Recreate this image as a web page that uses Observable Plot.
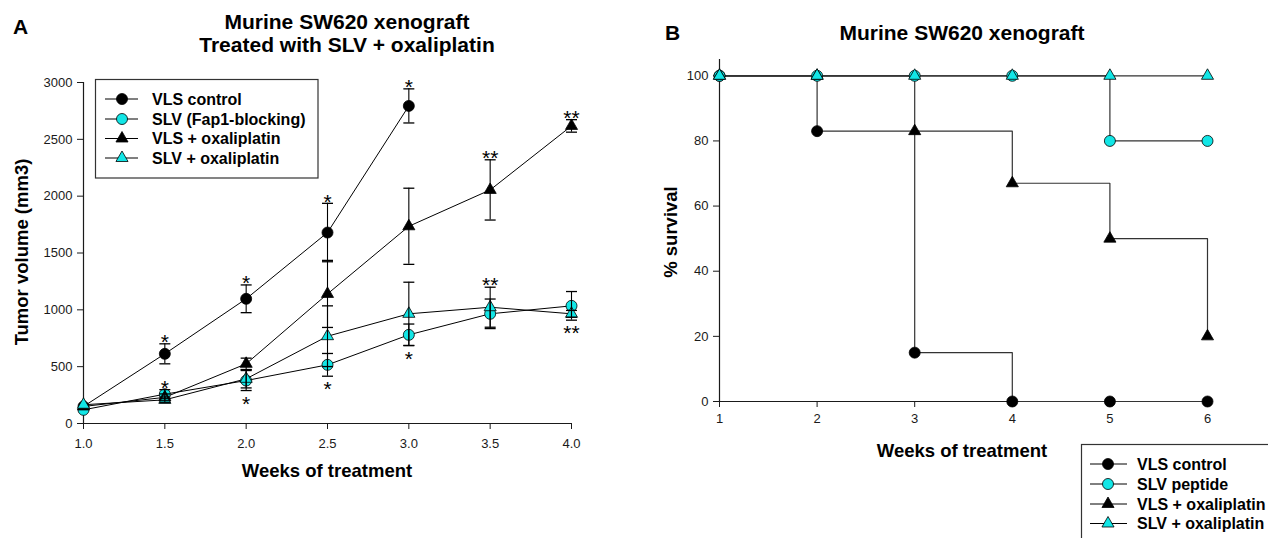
<!DOCTYPE html>
<html><head><meta charset="utf-8">
<script src="https://cdn.jsdelivr.net/npm/d3@7"></script>
<script src="https://cdn.jsdelivr.net/npm/@observablehq/plot@0.6"></script>
<style>
html,body{margin:0;padding:0;background:#fff;width:1268px;height:538px;overflow:hidden;}
#wrap{position:relative;width:1268px;height:538px;font-family:"Liberation Sans",Arial,Helvetica,sans-serif;}
.panel{position:absolute;top:0;}
.panel svg g[aria-label$="tick label"], .panel svg g[aria-label$="tick label"] text{font-size:13px !important;}
#overlay{position:absolute;left:0;top:0;pointer-events:none;}
</style></head><body><div id="wrap"></div>
<script>
// ---------- Panel A data: tumor volume (mm3) ----------
const weeksA = [1.0, 1.5, 2.0, 2.5, 3.0, 3.5, 4.0];
const seriesA = ["VLS control", "SLV (Fap1-blocking)", "VLS + oxaliplatin", "SLV + oxaliplatin"];
const vlsControlVol = [150, 613, 1097, 1680, 2794];
const vlsControlErr = [0, 88, 122, 257, 150];
const slvVol = [120, 258, 378, 516, 780, 965, 1035];
const slvErr = [0, 40, 88, 100, 95, 130, 126];
const vlsOxVol = [150, 230, 525, 1140, 1735, 2055, 2618];
const vlsOxErr = [0, 30, 50, 295, 335, 265, 55];
const slvOxVol = [165, 208, 393, 768, 965, 1023, 965];
const slvOxErr = [0, 25, 80, 267, 278, 176, 30];
const yTicksA = [0, 500, 1000, 1500, 2000, 2500, 3000];

// significance marks (week, series index, side of error bar, label)
const starWeeks = [1.5, 1.5, 2.0, 2.0, 2.5, 2.5, 3.0, 3.0, 3.5, 3.5, 4.0, 4.0];
const starSeries = [0, 1, 0, 1, 0, 1, 0, 1, 2, 3, 2, 1];
const starSide = ["top","top","top","bottom","top","bottom","top","bottom","top","top","top","bottom"];
const starLabels = ["*","*","*","*","*","*","*","*","**","**","**","**"];

// ---------- Panel B data: % survival ----------
const weeksB = [1, 2, 3, 4, 5, 6];
const seriesB = ["VLS control", "SLV peptide", "VLS + oxaliplatin", "SLV + oxaliplatin"];
const survVLS = [100, 83, 15, 0, 0, 0];
const survSLV = [100, 100, 100, 100, 80, 80];
const survVLSox = [100, 100, 83, 67, 50, 20];
const survSLVox = [100, 100, 100, 100, 100, 100];
const yTicksB = [0, 20, 40, 60, 80, 100];

// ---------- styles ----------
const CYAN = "#12e6e6";
const INK = "#1a1a1a";
const FONT = "'Liberation Sans', Arial, Helvetica, sans-serif";
const seriesFill = ["#000", CYAN, "#000", CYAN];
const seriesSymbol = ["circle", "circle", "triangle", "triangle"];
const symbolR = {circle: 5.5, triangle: 4.5};

// ---------- build tables ----------
const volA = [vlsControlVol, slvVol, vlsOxVol, slvOxVol];
const errA = [vlsControlErr, slvErr, vlsOxErr, slvOxErr];
const rowsA = [];
volA.forEach((vals, s) => vals.forEach((v, i) => rowsA.push({
  series: seriesA[s], s, week: weeksA[i], value: v, err: errA[s][i],
  lo: v - errA[s][i], hi: v + errA[s][i]
})));
const errRows = rowsA.filter(d => d.err > 0);
const capRows = errRows.flatMap(d => [{week: d.week, y: d.lo, s: d.s}, {week: d.week, y: d.hi, s: d.s}]);
const starRows = starWeeks.map((w, i) => {
  const r = rowsA.find(d => d.s === starSeries[i] && d.week === w);
  return {week: w, side: starSide[i], label: starLabels[i], y: starSide[i] === "top" ? r.hi : r.lo};
});

const survB = [survVLS, survSLV, survVLSox, survSLVox];
const rowsB = [];
survB.forEach((vals, s) => vals.forEach((v, i) => rowsB.push({series: seriesB[s], s, week: weeksB[i], value: v})));

const capSymbol = {draw(ctx) { ctx.moveTo(-5.5, 0); ctx.lineTo(5.5, 0); }};

function dotsFor(rows) {
  return [0, 1, 2, 3].map(s => Plot.dot(rows.filter(d => d.s === s), {
    x: "week", y: "value", symbol: seriesSymbol[s], r: symbolR[seriesSymbol[s]],
    fill: seriesFill[s], stroke: "#000", strokeWidth: 0.8
  }));
}

// ---------- Panel A ----------
const plotA = Plot.plot({
  width: 634, height: 538,
  marginLeft: 83, marginRight: 63, marginTop: 82, marginBottom: 115,
  x: {domain: [1, 4]},
  y: {domain: [0, 3000]},
  style: {fontFamily: FONT, fontSize: "13px", color: INK, background: "transparent", overflow: "visible"},
  marks: [
    Plot.ruleY([0], {stroke: INK, strokeWidth: 1.2}),
    Plot.ruleX([1], {stroke: INK, strokeWidth: 1.2}),
    Plot.axisX(weeksA, {tickFormat: d => d.toFixed(1), tickSize: 6, tickPadding: 9, label: null, fontSize: 13, stroke: INK}),
    Plot.axisY(yTicksA, {tickFormat: d3.format("d"), tickSize: 6, tickPadding: 5, label: null, fontSize: 13, stroke: INK}),
    Plot.line(rowsA, {x: "week", y: "value", z: "series", stroke: "#000", strokeWidth: 1}),
    ...dotsFor(rowsA),
    Plot.ruleX(errRows, {x: "week", y1: "lo", y2: "hi", stroke: "#000", strokeWidth: 1.1}),
    Plot.dot(capRows, {x: "week", y: "y", symbol: capSymbol, stroke: "#000", fill: "none", strokeWidth: 1.3}),
    Plot.text(starRows.filter(d => d.side === "top"), {x: "week", y: "y", text: "label", dy: -1.5, fontSize: 21, fill: "#000"}),
    Plot.text(starRows.filter(d => d.side === "bottom"), {x: "week", y: "y", text: "label", dy: 13.5, fontSize: 21, fill: "#000"})
  ]
});

// ---------- Panel B ----------
const plotB = Plot.plot({
  width: 634, height: 538,
  marginLeft: 85, marginRight: 61, marginTop: 59, marginBottom: 137,
  x: {domain: [1, 6]},
  y: {domain: [0, 105]},
  style: {fontFamily: FONT, fontSize: "13px", color: INK, background: "transparent", overflow: "visible"},
  marks: [
    Plot.ruleY([0], {stroke: INK, strokeWidth: 1.2}),
    Plot.ruleX([1], {stroke: INK, strokeWidth: 1.2}),
    Plot.axisX(weeksB, {tickFormat: d3.format("d"), tickSize: 6, tickPadding: 6, label: null, fontSize: 13, stroke: INK}),
    Plot.axisY(yTicksB, {tickFormat: d3.format("d"), tickSize: 6, tickPadding: 5, label: null, fontSize: 13, stroke: INK}),
    Plot.line(rowsB, {x: "week", y: "value", z: "series", curve: "step-after", stroke: "#333", strokeWidth: 1.2}),
    ...dotsFor(rowsB)
  ]
});

const wrap = document.getElementById("wrap");
const pa = document.createElement("div"); pa.className = "panel"; pa.style.left = "0px"; pa.appendChild(plotA); wrap.appendChild(pa);
const pb = document.createElement("div"); pb.className = "panel"; pb.style.left = "634px"; pb.appendChild(plotB); wrap.appendChild(pb);

// ---------- overlay: titles, axis titles, legends ----------
const svg = d3.create("svg").attr("id", "overlay").attr("width", 1268).attr("height", 538)
  .style("font-family", FONT);
function txt(x, y, s, size, opts = {}) {
  const t = svg.append("text").attr("x", x).attr("y", y).text(s)
    .attr("font-size", size).attr("font-weight", opts.weight || "bold")
    .attr("text-anchor", opts.anchor || "start").attr("fill", "#000");
  if (opts.rotate) t.attr("transform", `rotate(-90 ${x} ${y})`);
  return t;
}
txt(13, 34, "A", 21);
txt(347, 28.5, "Murine SW620 xenograft", 21, {anchor: "middle"});
txt(347, 51.5, "Treated with SLV + oxaliplatin", 21, {anchor: "middle"});
txt(327, 477, "Weeks of treatment", 18.5, {anchor: "middle"});
txt(28, 252, "Tumor volume (mm3)", 18.5, {anchor: "middle", rotate: true});

txt(665, 40, "B", 21);
txt(962, 40, "Murine SW620 xenograft", 21, {anchor: "middle"});
txt(962, 457, "Weeks of treatment", 18.5, {anchor: "middle"});
txt(677, 232, "% survival", 18.5, {anchor: "middle", rotate: true});

function legend(box, names, cys, x0, x1, xm, xt) {
  svg.append("rect").attr("x", box[0]).attr("y", box[1]).attr("width", box[2]).attr("height", box[3])
    .attr("fill", "#fff").attr("stroke", "#333").attr("stroke-width", 1.2);
  names.forEach((n, i) => {
    const cy = cys[i];
    svg.append("line").attr("x1", x0).attr("x2", x1).attr("y1", cy).attr("y2", cy).attr("stroke", "#000").attr("stroke-width", 1);
    const sym = seriesSymbol[i] === "circle" ? d3.symbolCircle : d3.symbolTriangle;
    const r = symbolR[seriesSymbol[i]];
    svg.append("path").attr("d", d3.symbol(sym, Math.PI * r * r)()).attr("transform", `translate(${xm},${cy})`)
      .attr("fill", seriesFill[i]).attr("stroke", "#000").attr("stroke-width", 0.8);
    txt(xt, cy + 5.7, n, 16);
  });
}
legend([95.5, 79.5, 222.5, 98.5], seriesA, [99, 119, 138.5, 158], 105, 138, 122, 152);
legend([1081.5, 444.5, 300, 200], seriesB, [464, 484, 504, 523.5], 1090, 1127, 1108, 1137);

wrap.appendChild(svg.node());
</script>
</body></html>
